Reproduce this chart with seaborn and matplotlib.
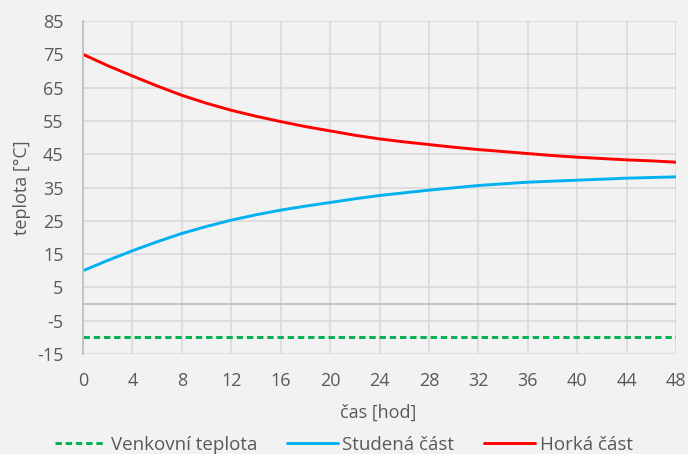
import matplotlib
matplotlib.use('Agg')
import matplotlib.pyplot as plt
import seaborn as sns
import pandas as pd

# hodnoty (každé 2 hodiny)
cas = [0, 2, 4, 6, 8, 10, 12, 14, 16, 18, 20, 22, 24,
       26, 28, 30, 32, 34, 36, 38, 40, 42, 44, 46, 48]
horka = [75.0, 71.6, 68.5, 65.5, 62.7, 60.3, 58.2, 56.4, 54.8, 53.3, 52.0, 50.7, 49.6,
         48.7, 47.9, 47.1, 46.4, 45.8, 45.2, 44.6, 44.1, 43.7, 43.3, 43.0, 42.6]
studena = [10.0, 13.1, 16.0, 18.7, 21.2, 23.3, 25.2, 26.8, 28.2, 29.4, 30.5, 31.6, 32.6,
           33.4, 34.2, 34.9, 35.6, 36.1, 36.6, 36.9, 37.2, 37.5, 37.8, 38.0, 38.2]
venkovni = [-10.0] * len(cas)

df = pd.DataFrame({'cas': cas, 'horka': horka, 'studena': studena, 'venkovni': venkovni})

sns.set_style('white')
plt.rcParams['font.family'] = ['Open Sans', 'DejaVu Sans']
plt.rcParams['axes.unicode_minus'] = False
txt = '#595959'
fs = 13

fig = plt.figure(figsize=(6.88, 4.54), dpi=100, facecolor='#f2f2f2')
ax = fig.add_axes([0.1206, 0.2203, 0.862, 0.7334])
ax.set_facecolor('#f2f2f2')

sns.lineplot(x='cas', y='venkovni', data=df, ax=ax, color='#00b050', lw=2.1,
             linestyle=(0, (2.2, 1.3)), label='Venkovní teplota')
sns.lineplot(x='cas', y='studena', data=df, ax=ax, color='#00b0f0', lw=2.1,
             label='Studená část')
sns.lineplot(x='cas', y='horka', data=df, ax=ax, color='#ff0000', lw=2.1,
             label='Horká část')

ax.axhline(0, color='#bfbfbf', lw=1.3, zorder=1)

ax.set_xlim(0, 48)
ax.set_ylim(-15, 85)
ax.set_xticks(range(0, 49, 4))
ax.set_yticks(range(-15, 86, 10))
ax.grid(True, color='#d9d9d9', lw=1.2)
ax.set_axisbelow(True)
for s in ['top', 'right', 'bottom']:
    ax.spines[s].set_visible(False)
ax.spines['left'].set_color('#bfbfbf')
ax.spines['left'].set_linewidth(1.3)
ax.tick_params(length=0, labelsize=fs, labelcolor=txt)
ax.tick_params(axis='x', pad=13)
ax.tick_params(axis='y', pad=14)

ax.set_xlabel('čas [hod]', fontsize=fs, color=txt, va='center')
ax.set_ylabel('teplota [°C]', fontsize=fs, color=txt, va='center')
ax.xaxis.set_label_coords(0.497, -0.177)
ax.yaxis.set_label_coords(-0.103, 0.5)

ax.legend(loc='center', bbox_to_anchor=(0.5, 0.02), bbox_transform=fig.transFigure,
          ncol=3, frameon=False, fontsize=13.5, labelcolor=txt, handlelength=2.7,
          handletextpad=0.25, columnspacing=1.6)

fig.savefig('out.png', dpi=100, facecolor=fig.get_facecolor())
